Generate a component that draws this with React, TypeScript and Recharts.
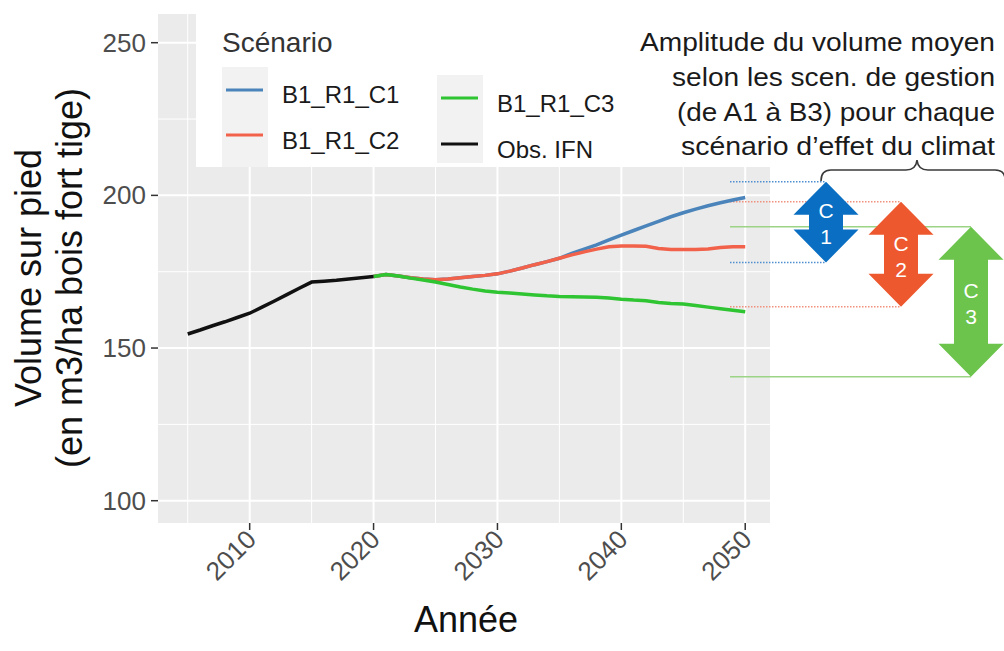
import React from 'react'
import {
  LineChart,
  Line,
  XAxis,
  YAxis,
  CartesianGrid,
  Legend,
  ReferenceArea,
  Customized,
} from 'recharts'

// observed volumes (IFN)
const obsYears = [2005, 2006, 2007, 2008, 2009, 2010, 2011, 2012, 2013, 2014, 2015, 2016, 2017, 2018, 2019, 2020]
const obsValues = [154.6, 155.9, 157.3, 158.6, 160.0, 161.4, 163.4, 165.4, 167.5, 169.6, 171.6, 171.9, 172.2, 172.6, 173.0, 173.4]

// simulated scenarios
const scenYears = [
  2020, 2021, 2022, 2023, 2024, 2025, 2026, 2027, 2028, 2029, 2030,
  2031, 2032, 2033, 2034, 2035, 2036, 2037, 2038, 2039, 2040,
  2041, 2042, 2043, 2044, 2045, 2046, 2047, 2048, 2049, 2050,
]
const c1Values = [
  173.4, 174.1, 173.6, 173.0, 172.6, 172.4, 172.6, 173.0, 173.4, 173.8, 174.3,
  175.2, 176.2, 177.3, 178.3, 179.4, 181.0, 182.4, 183.8, 185.4, 187.0,
  188.5, 190.0, 191.5, 193.0, 194.3, 195.5, 196.6, 197.6, 198.5, 199.3,
]
const c2Values = [
  173.4, 174.1, 173.6, 173.0, 172.6, 172.4, 172.6, 173.0, 173.4, 173.8, 174.3,
  175.2, 176.2, 177.3, 178.3, 179.4, 180.5, 181.5, 182.4, 183.2, 183.4,
  183.4, 183.3, 182.6, 182.3, 182.3, 182.3, 182.4, 182.9, 183.2, 183.2,
]
const c3Values = [
  173.4, 174.1, 173.6, 172.9, 172.3, 171.6, 170.8, 170.0, 169.3, 168.7, 168.3,
  168.0, 167.7, 167.4, 167.1, 166.9, 166.8, 166.7, 166.6, 166.4, 166.0,
  165.7, 165.5, 164.9, 164.6, 164.4, 163.9, 163.4, 162.9, 162.4, 161.9,
]

const seriesNames = ['B1_R1_C1', 'B1_R1_C2', 'B1_R1_C3', 'Obs. IFN']
const seriesColors = ['#4A84BA', '#F2614A', '#2EC432', '#111111']

const yTicks = [100, 150, 200, 250]
const yMinor = [125, 175, 225]
const xTicks = [2010, 2020, 2030, 2040, 2050]
const xMinor = [2005, 2015, 2025, 2035, 2045]

// amplitude of the mean volume per climate scenario
const ampNames = ['C1', 'C2', 'C3']
const ampHigh = [204.5, 197.9, 189.7]
const ampLow = [178.0, 163.5, 140.6]

const noteLines = [
  'Amplitude du volume moyen',
  'selon les scen. de gestion',
  '(de A1 à B3) pour chaque',
  'scénario d’effet du climat',
]

// layout / styles
const W = 1004
const H = 651
const FONT = '"Liberation Sans", Arial, Helvetica, sans-serif'
const PLOT = { left: 158, right: 770, top: 14, bottom: 523 }
const ARROW_X = [826, 901, 971]
const ARROW_FILL = ['#0A6FC2', '#EE582F', '#6CC44C']
const GUIDE_STROKE = ['#4F8FCF', '#F2907E', '#9CD486']
const GUIDE_DASH = ['1.5 1.5', '1.5 1.5', undefined]
const NOTE_Y = [51, 86, 121, 155]
const NOTE_W = [355, 323, 318, 314]

const toPoints = (xs: number[], ys: number[]) => xs.map((year, i) => ({ year, v: ys[i] }))

const obsData = toPoints(obsYears, obsValues)
const c1Data = toPoints(scenYears, c1Values)
const c2Data = toPoints(scenYears, c2Values)
const c3Data = toPoints(scenYears, c3Values)

const renderXTick = (p: any) => {
  const x = p.x + 8
  const y = PLOT.bottom + 18
  return (
    <text x={x} y={y} transform={`rotate(-45 ${x} ${y})`} textAnchor="end"
      fontSize={26} fill="#4D4D4D" fontFamily={FONT}>
      {p.payload.value}
    </text>
  )
}

const renderYTick = (p: any) => (
  <text x={146} y={p.y} dy="0.35em" textAnchor="end" fontSize={26} fill="#4D4D4D" fontFamily={FONT}>
    {p.payload.value}
  </text>
)

// double arrow between the two guide lines of one scenario
const makeArrow = (i: number) => (p: any) => {
  const top = p.y
  const bottom = p.y + p.height
  const cx = ARROW_X[i]
  const hw = 32.5
  const sw = 17
  const hh = 33
  const pts = [
    [cx, top], [cx + hw, top + hh], [cx + sw, top + hh], [cx + sw, bottom - hh],
    [cx + hw, bottom - hh], [cx, bottom], [cx - hw, bottom - hh], [cx - sw, bottom - hh],
    [cx - sw, top + hh], [cx - hw, top + hh],
  ].map((q) => q.join(',')).join(' ')
  const mid = (top + bottom) / 2 + 2
  return (
    <g>
      <line x1={730} x2={cx} y1={top} y2={top} stroke={GUIDE_STROKE[i]} strokeWidth={1.5} strokeDasharray={GUIDE_DASH[i]} />
      <line x1={730} x2={cx} y1={bottom} y2={bottom} stroke={GUIDE_STROKE[i]} strokeWidth={1.5} strokeDasharray={GUIDE_DASH[i]} />
      <polygon points={pts} fill={ARROW_FILL[i]} />
      <text x={cx} y={mid - 13} dy="0.35em" textAnchor="middle" fontSize={21} fill="#fff" fontFamily={FONT}>
        {ampNames[i][0]}
      </text>
      <text x={cx} y={mid + 13} dy="0.35em" textAnchor="middle" fontSize={21} fill="#fff" fontFamily={FONT}>
        {ampNames[i][1]}
      </text>
    </g>
  )
}

function Decor() {
  return (
    <g fontFamily={FONT}>
      <rect x={196} y={0} width={580} height={167} fill="#FFFFFF" />
      {noteLines.map((t, i) => (
        <text key={t} x={995} y={NOTE_Y[i]} textAnchor="end" fontSize={25} fill="#1A1A1A"
          textLength={NOTE_W[i]} lengthAdjust="spacingAndGlyphs">
          {t}
        </text>
      ))}
      <path d="M 821 181 Q 821 170 831 170 L 906 170 Q 916 170 917 160 Q 918 170 928 170 L 995 170 Q 1004 170 1005 178"
        fill="none" stroke="#3A3A3A" strokeWidth={1.6} />
      <text x={41} y={278} transform="rotate(-90 41 278)" textAnchor="middle" fontSize={36} fill="#111">
        Volume sur pied
      </text>
      <text x={82} y={278} transform="rotate(-90 82 278)" textAnchor="middle" fontSize={36} fill="#111">
        (en m3/ha bois fort tige)
      </text>
      <text x={466} y={632} textAnchor="middle" fontSize={36} fill="#111">Année</text>
    </g>
  )
}

const renderLegend = () => {
  const cols = [
    { bgX: 222, bgY: 67, bgH: 100, lineX: 226, textX: 282, rows: [90, 135], base: [103, 149], idx: [0, 1] },
    { bgX: 437, bgY: 75, bgH: 88, lineX: 441, textX: 497, rows: [98, 144], base: [112, 158], idx: [2, 3] },
  ]
  return (
    <svg width={W} height={170} style={{ display: 'block' }} fontFamily={FONT}>
      <text x={222} y={52} fontSize={28} fill="#333">Scénario</text>
      {cols.map((c) => (
        <g key={c.bgX}>
          <rect x={c.bgX} y={c.bgY} width={46} height={c.bgH} fill="#F2F2F2" />
          {c.idx.map((s, k) => (
            <g key={seriesNames[s]}>
              <line x1={c.lineX} x2={c.lineX + 37} y1={c.rows[k]} y2={c.rows[k]} stroke={seriesColors[s]} strokeWidth={3} />
              <text x={c.textX} y={c.base[k]} fontSize={24} fill="#1A1A1A">{seriesNames[s]}</text>
            </g>
          ))}
        </g>
      ))}
    </svg>
  )
}

export default function App() {
  return (
    <div style={{ position: 'absolute', left: 0, top: 0, width: W, height: H, background: '#fff' }}>
      <LineChart width={W} height={H} margin={{ top: PLOT.top, right: W - PLOT.right, bottom: 0, left: 0 }}>
        <CartesianGrid fill="#EBEBEB" stroke="#FFFFFF" strokeWidth={1} horizontalValues={yMinor} verticalValues={xMinor} />
        <CartesianGrid stroke="#FFFFFF" strokeWidth={2} horizontalValues={yTicks} verticalValues={xTicks} />
        <XAxis type="number" dataKey="year" domain={[2002.6, 2052]} allowDataOverflow ticks={xTicks}
          interval={0} height={H - PLOT.bottom} axisLine={false} tickSize={7}
          tickLine={{ stroke: '#333', strokeWidth: 1.5 }} tick={renderXTick} />
        <YAxis type="number" domain={[92.7, 259.4]} allowDataOverflow ticks={yTicks} interval={0}
          width={PLOT.left} axisLine={false} tickSize={7}
          tickLine={{ stroke: '#333', strokeWidth: 1.5 }} tick={renderYTick} />
        <Customized component={Decor} />
        {[2, 1, 0].map((i) => (
          <ReferenceArea key={ampNames[i]} y1={ampLow[i]} y2={ampHigh[i]} ifOverflow="visible" shape={makeArrow(i)} />
        ))}
        <Line data={c1Data} dataKey="v" name={seriesNames[0]} stroke={seriesColors[0]} strokeWidth={3.5} dot={false} isAnimationActive={false} />
        <Line data={c2Data} dataKey="v" name={seriesNames[1]} stroke={seriesColors[1]} strokeWidth={3.5} dot={false} isAnimationActive={false} />
        <Line data={c3Data} dataKey="v" name={seriesNames[2]} stroke={seriesColors[2]} strokeWidth={3.5} dot={false} isAnimationActive={false} />
        <Line data={obsData} dataKey="v" name={seriesNames[3]} stroke={seriesColors[3]} strokeWidth={3.5} dot={false} isAnimationActive={false} />
        <Legend layout="horizontal" verticalAlign="middle" align="center" content={renderLegend}
          wrapperStyle={{ position: 'absolute', left: 0, top: 0, width: W, height: 170, pointerEvents: 'none' }} />
      </LineChart>
    </div>
  )
}
